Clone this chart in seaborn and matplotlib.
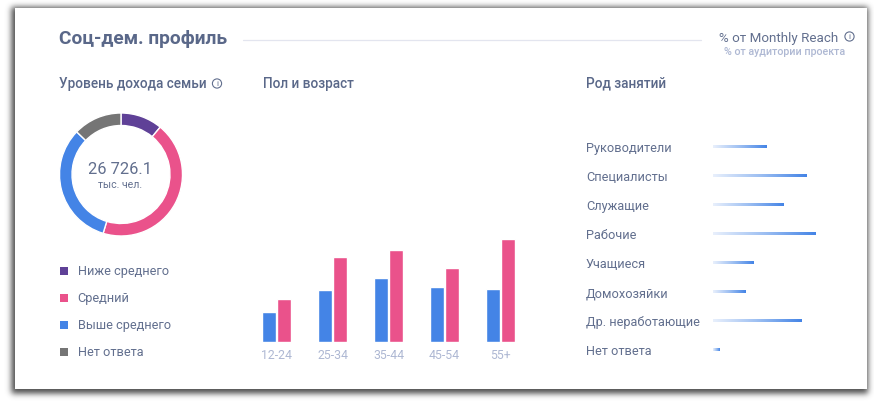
import numpy as np
import pandas as pd
import matplotlib
matplotlib.use("Agg")
import matplotlib.pyplot as plt
from matplotlib.colors import LinearSegmentedColormap
from math import erf
import seaborn as sns

income_labels = ["Ниже среднего", "Средний", "Выше среднего", "Нет ответа"]
income_values = [11.0, 43.7, 32.5, 12.8]
age_groups = ["12-24", "25-34", "35-44", "45-54", "55+"]
male_values = [4.6, 7.9, 9.9, 8.5, 8.2]
female_values = [6.5, 13.0, 14.1, 11.3, 15.9]
occupations = ["Руководители", "Специалисты", "Служащие", "Рабочие", "Учащиеся",
               "Домохозяйки", "Др. неработающие", "Нет ответа"]
occupation_values = [11.0, 19.0, 14.5, 21.0, 8.2, 6.7, 18.0, 1.4]

PURPLE, PINK, BLUE, GRAY = "#5f4197", "#ea528b", "#4484e6", "#757575"
TEXT, HEAD, MUTED = "#626f8e", "#5a6889", "#aeb8d3"
W, H = 874, 403

sns.set_theme(style="white")
plt.rcParams["font.family"] = ["Roboto", "DejaVu Sans"]
fig = plt.figure(figsize=(W / 100, H / 100), dpi=100, facecolor="white")

def rect(x0, y0, x1, y1):
    return [x0 / W, 1 - y1 / H, (x1 - x0) / W, (y1 - y0) / H]

# card shadow and card
bg = fig.add_axes([0, 0, 1, 1], zorder=0)
bg.set_xlim(0, W); bg.set_ylim(H, 0); bg.axis("off")
verf = np.vectorize(erf)
xx = np.arange(W) + 0.5
yy = np.arange(H) + 0.5
sig = 3.0 * np.sqrt(2)
fx = 0.5 * (verf((xx - 11.5) / sig) - verf((xx - 868.0) / sig))
fy = 0.5 * (verf((yy - 7.0) / sig) - verf((yy - 393.5) / sig))
alpha = np.outer(fy, fx) * 0.88
img = np.zeros((H, W, 4)); img[..., :3] = 0.2; img[..., 3] = alpha
bg.imshow(img, extent=(0, W, H, 0), aspect="auto", interpolation="nearest")
bg.add_patch(plt.Rectangle((15, 8), 852, 381, fc="white", ec="none", zorder=3))
bg.plot([243, 701], [39.5, 39.5], color="#e3e5ef", lw=0.9, zorder=4)
bg.set_xlim(0, W); bg.set_ylim(H, 0)

# overlay for text
ov = fig.add_axes([0, 0, 1, 1], zorder=5)
ov.set_xlim(0, W); ov.set_ylim(H, 0); ov.axis("off"); ov.patch.set_alpha(0)

def label(x, y, s, px, color=TEXT, weight="normal", ha="left"):
    ov.text(x, y, s, fontsize=px * 0.72, color=color, weight=weight, ha=ha, va="center_baseline")

def info(x, y):
    ov.add_patch(plt.Circle((x, y), 4.6, fc="none", ec=TEXT, lw=0.8))
    ov.text(x, y + 0.2, "i", fontsize=6, color=TEXT, ha="center", va="center")

label(59, 37, "Соц-дем. профиль", 19.1, HEAD, "bold")
label(59, 82.4, "Уровень дохода семьи", 13.6, HEAD, "medium")
label(263, 82.4, "Пол и возраст", 13.6, HEAD, "medium")
label(586, 82.4, "Род занятий", 13.6, HEAD, "medium")
label(719, 37, "% от Monthly Reach", 13.4, TEXT)
label(724, 51, "% от аудитории проекта", 10.6, MUTED, "medium")
info(217, 83.5); info(849.5, 36.5)
label(120.5, 168, "26 726.1", 16.5, TEXT, ha="center")
label(120.5, 184, "тыс. чел.", 10.5, TEXT, ha="center")

# donut
a1 = fig.add_axes(rect(59.5, 113, 182.5, 236), zorder=2)
a1.pie(income_values, colors=[PURPLE, PINK, BLUE, GRAY], startangle=90, counterclock=False,
       radius=1, wedgeprops=dict(width=12.5 / 61.5))
a1.set_xlim(-1, 1); a1.set_ylim(-1, 1); a1.set_aspect("auto")

# legend
for name, c, y in zip(income_labels, [PURPLE, PINK, BLUE, GRAY], [271, 298, 325, 352]):
    ov.scatter([64], [y], marker="s", s=(8 * 0.72) ** 2, color=c, linewidths=0)
    label(77.5, y - 0.6, name, 12.7)

# sex and age bars
sex_df = pd.DataFrame({
    "age": age_groups * 2,
    "sex": ["М"] * 5 + ["Ж"] * 5,
    "value": male_values + female_values,
})
a2 = fig.add_axes(rect(248.5, 238.1, 528.5, 341.5), zorder=2)
sns.barplot(data=sex_df, x="age", y="value", hue="sex", palette=[BLUE, PINK], width=0.535,
            gap=0.07, saturation=1, legend=False, ax=a2)
a2.set_ylim(0, 16); a2.set_xlim(-0.5, 4.5)
a2.set_xlabel(""); a2.set_ylabel(""); a2.set_yticks([])
a2.tick_params(axis="x", length=0, pad=5.5, labelsize=12.2 * 0.72, labelcolor=MUTED)
for t in a2.get_xticklabels():
    t.set_x(t.get_position()[0])
sns.despine(ax=a2, left=True, bottom=True)
a2.patch.set_alpha(0)

# occupation bars with gradient
a3 = fig.add_axes(rect(713, 132.7, 820.7, 364.7), zorder=2)
occ_df = pd.DataFrame({"occ": occupations, "value": occupation_values})
sns.barplot(data=occ_df, y="occ", x="value", width=0.085, color=BLUE, saturation=1, ax=a3)
a3.set_xlim(0, 22); ylim = a3.get_ylim()
cmap = LinearSegmentedColormap.from_list("fade", ["#e9f0fc", "#9dbff2", BLUE])
grad = np.linspace(0, 1, 256).reshape(1, -1)
for p in a3.patches:
    a3.imshow(grad, cmap=cmap, aspect="auto", zorder=3,
              extent=(p.get_x(), p.get_x() + p.get_width(), p.get_y() + p.get_height(), p.get_y()))
    p.set_visible(False)
a3.set_xlim(0, 22); a3.set_ylim(ylim)
a3.set_xlabel(""); a3.set_ylabel(""); a3.set_xticks([])
a3.tick_params(axis="y", length=0, pad=127 * 0.72, labelsize=12.7 * 0.72, labelcolor=TEXT)
for t in a3.get_yticklabels():
    t.set_ha("left")
    t.set_va("center_baseline")
sns.despine(ax=a3, left=True, bottom=True)
a3.patch.set_alpha(0)

fig.savefig("out.png", dpi=100)
